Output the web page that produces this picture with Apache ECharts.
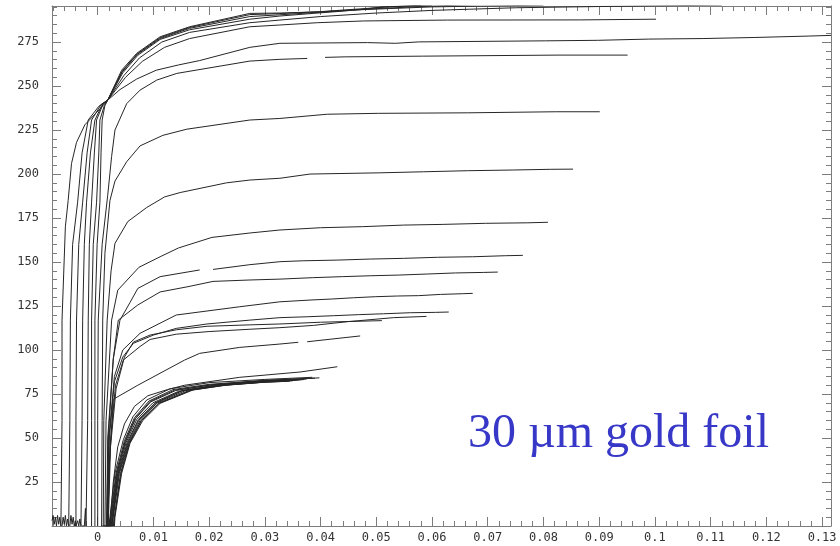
<!DOCTYPE html>
<html>
<head>
<meta charset="utf-8">
<script src="https://cdn.jsdelivr.net/npm/echarts@6/dist/echarts.min.js"></script>
<style>
html,body{margin:0;padding:0;background:#fff;}
#chart{width:840px;height:546px;}
</style>
</head>
<body>
<div id="chart"></div>
<script>
// ---- tick values / labels ----
const xTickValues = [0, 0.01, 0.02, 0.03, 0.04, 0.05, 0.06, 0.07, 0.08, 0.09, 0.1, 0.11, 0.12, 0.13];
const xTickLabels = ['0', '0.01', '0.02', '0.03', '0.04', '0.05', '0.06', '0.07', '0.08', '0.09', '0.1', '0.11', '0.12', '0.13'];
const yTickValues = [25, 50, 75, 100, 125, 150, 175, 200, 225, 250, 275];
const yTickLabels = ['25', '50', '75', '100', '125', '150', '175', '200', '225', '250', '275'];

// ---- curves (x, y) ----
const curveC = [[-0.0082,3],[-0.0080,6],[-0.0078,1],[-0.0076,5],[-0.0074,0],[-0.0072,6],[-0.0070,1],[-0.0068,5],[-0.0066,0],[-0.0064,0],
  [-0.0064,60],[-0.0064,117],[-0.0058,170],[-0.0053,185],[-0.0047,206],[-0.0038,218],[-0.0023,228],[0.0004,237],[0.0018,242],
  [0.004,248],[0.007,254],[0.0105,259],[0.0145,262],[0.0183,264.5],[0.0273,272],[0.0327,274.3],[0.0484,274.7],[0.0534,274.3],[0.0576,275.1],[0.0804,275.7],
  [0.0897,276],[0.0989,276.7],[0.1086,277],[0.1178,277.6],[0.1275,278.4],[0.1316,278.8]];
const curveB = [[-0.0064,0],[-0.0062,5],[-0.0060,1],[-0.0058,6],[-0.0056,0],[-0.0054,4],[-0.0052,0],[-0.0050,0],
  [-0.0050,60],[-0.0049,117],[-0.0045,160],[-0.0036,184],[-0.0028,212],[-0.0017,230.7],[0.0002,238.5],[0.0018,242],
  [0.005,255],[0.008,264],[0.012,272],[0.0165,277],[0.0273,283.7],[0.0327,284.7],[0.0394,286],[0.0477,287],[0.0628,287.5],[0.0867,287.6],[0.1002,288]];
const curveT3 = [[-0.0050,0],[-0.0048,6],[-0.0046,1],[-0.0044,5],[-0.0042,0],[-0.0040,3],[-0.0039,0],
  [-0.0039,60],[-0.0038,117],[-0.0034,160],[-0.0027,184],[-0.0019,212],[-0.0011,230.7],[0.0006,239.5],[0.0018,242],
  [0.0047,256],[0.0075,266],[0.0115,275],[0.0165,280.5],[0.0273,286],[0.0327,287.5],[0.04,289.5],[0.05,291.5],[0.06,293],[0.075,294.5],[0.09,295.2],[0.112,296]];
const curveT2 = [[-0.0039,0],[-0.0036,3],[-0.0034,0],[-0.0032,4],[-0.0030,0],[-0.0028,0],
  [-0.0028,60],[-0.0027,117],[-0.0024,160],[-0.002,184],[-0.0013,212],[-0.0005,230.7],[0.0009,240],[0.0018,242],
  [0.0045,257.5],[0.0072,267.5],[0.0112,276.5],[0.0165,282],[0.0273,288],[0.0327,289.8],[0.0387,291.3],[0.0448,292.8],[0.0457,293.2],[0.06,295],[0.08,296]];
const curveT1b = [[-0.0028,0],[-0.0024,0],[-0.0022,10],[-0.0021,0],[-0.0018,0],
  [-0.0018,60],[-0.0017,117],[-0.0015,160],[-0.0011,184],[-0.0006,212],[-0.0002,230.7],[0.001,240],[0.0018,242],
  [0.0044,258],[0.0071,268],[0.0112,277],[0.0165,282.8],[0.0273,289.5],[0.0327,290.5],[0.04,292],[0.05,294],[0.06,295.5],[0.07,296.5]];
const curveT1a = [[-0.0011,0],[-0.0011,60],[-0.0011,117],[-0.0008,160],[-0.0002,184],[0.0002,212],[0.0004,230.7],[0.0012,239],[0.0018,242],
  [0.0044,258.5],[0.0071,268.3],[0.0112,277.5],[0.0165,283.3],[0.0273,290.6],[0.0327,291.2],[0.04,292.3],[0.05,294.5],[0.058,296]];
const curveT0 = [[-0.0005,0],[-0.0005,60],[-0.0005,117],[-0.0001,160],[0.0004,184],[0.0006,212],[0.0008,230.7],[0.0013,239],[0.0018,242],
  [0.0043,259],[0.007,268.6],[0.0112,278],[0.0165,283.7],[0.0273,291.3],[0.0327,291.5],[0.04,292.2],[0.0477,293.6],[0.051,295],[0.06,296]];
const curveD = [[0,0],[0,60],[0.0001,117],[0.0008,160],[0.0018,188],[0.0025,210],[0.0031,225],[0.0052,240],[0.0076,247.7],[0.0106,253.4],
  [0.0142,257.2],[0.0273,264.2],[0.0327,265.2],[0.0376,265.7],[0.039,null],[0.0408,266.3],[0.0444,266.6],[0.0583,267],[0.0826,267.6],[0.0951,267.6]];
const curveE = [[0.0007,0],[0.0008,60],[0.0009,117],[0.0013,155],[0.0022,185],[0.0031,196],[0.0052,207],[0.0076,216],[0.0117,222],[0.016,225.5],
  [0.0273,230.7],[0.0327,231.6],[0.0412,234],[0.0504,234.5],[0.0664,234.8],[0.0822,235.4],[0.0901,235.4]];
const curveF = [[0.001,0],[0.0011,60],[0.0017,117],[0.0024,145],[0.0031,160.6],[0.0054,173],[0.0088,181],[0.012,187],[0.0148,189.5],[0.0231,195],
  [0.0273,196.6],[0.0327,197.6],[0.0381,200],[0.0507,200.7],[0.0585,201.3],[0.0664,201.9],[0.0746,202.3],[0.0813,202.7],[0.0853,202.8]];
const curveG = [[0.0013,0],[0.0015,60],[0.0025,117],[0.0036,134],[0.0074,147],[0.0112,153],[0.0145,158],[0.0205,164],[0.0273,166.5],[0.0327,168.2],
  [0.04,169.5],[0.0475,170.1],[0.0549,171],[0.062,171.4],[0.0696,172],[0.0772,172.3],[0.0808,172.6]];
const curveH = [[0.0016,0],[0.0018,50],[0.0028,95],[0.004,117],[0.0058,127],[0.0072,135],[0.0112,141.7],[0.0183,145.5],[0.0195,null],
  [0.0207,145.8],[0.0273,148.5],[0.0327,150.2],[0.0367,150.7],[0.043,151.1],[0.0489,151.7],[0.0549,152.1],[0.061,152.7],[0.0673,153],[0.0732,153.6],[0.0763,153.8]];
const curveI = [[0.0016,0],[0.0019,50],[0.0028,95],[0.0037,117],[0.0072,125.6],[0.0112,133],[0.0162,136],[0.0207,139],[0.0273,139.8],[0.0327,140.3],
  [0.0385,141.1],[0.0439,141.7],[0.0489,142.2],[0.054,142.6],[0.0592,143.2],[0.0642,143.8],[0.0692,144.1],[0.0718,144.3]];
const curveJ = [[0.0017,0],[0.002,50],[0.003,85],[0.0045,100],[0.0076,109.5],[0.0141,119.9],[0.0255,124.6],[0.0327,127.4],[0.0381,128.4],
  [0.0421,129],[0.0459,129.7],[0.0498,130.3],[0.0538,130.7],[0.0576,130.9],[0.0615,131.6],[0.0655,132],[0.0673,132.2]];
const curveK = [[0.0017,0],[0.0021,50],[0.003,82],[0.0045,96],[0.0064,103.8],[0.01,108.5],[0.0141,112.3],[0.0196,114.8],[0.0273,117],[0.0327,118.4],
  [0.0376,118.9],[0.0423,119.5],[0.0468,120.1],[0.0513,120.6],[0.0561,121.2],[0.0606,121.4],[0.063,121.6]];
const curveL = [[0.0018,0],[0.0022,45],[0.0032,80],[0.0046,94.3],[0.0076,102],[0.0094,106],[0.0141,109],[0.02,110.5],[0.0273,111.8],[0.0327,112.7],
  [0.0387,114],[0.0448,116.1],[0.0531,118.4],[0.059,119.1]];
const curveM = [[0.0019,0],[0.0023,45],[0.0033,78],[0.0048,96],[0.0064,104.5],[0.0094,108.5],[0.0141,111.5],[0.0196,113.5],[0.0273,114.3],[0.0327,114.8],
  [0.04,115.8],[0.051,116.7]];
const curveN = [[0.0018,0],[0.0021,35],[0.0028,72],[0.0072,80],[0.0156,94.3],[0.0183,98.1],[0.0255,101.5],[0.0327,103.4],[0.036,104.4],[0.0368,null],
  [0.0376,104.7],[0.0471,108]];
const curveO = [[0.0022,0],[0.0028,25],[0.0036,45],[0.0048,58],[0.0066,68],[0.009,74],[0.0125,77.5],[0.0156,80],[0.0255,84.5],[0.0363,87.5],[0.043,90.5]];
const bundle1 = [[0.0006,0],[0.0020,0],[0.0022,5],[0.0031,30],[0.0046,49],[0.0063,62],[0.0088,71.6],[0.013,78],[0.0201,81.5],[0.03,83.3],[0.0385,84.5]];
const bundle2 = [[0.0021,0],[0.0023,5],[0.0033,30],[0.0048,48.5],[0.0066,61.5],[0.0092,71],[0.0135,77.5],[0.02,80.5],[0.03,82.8],[0.039,84]];
const bundle3 = [[0.0010,0],[0.0022,0],[0.0024,5],[0.0034,30],[0.005,48],[0.0068,61],[0.0095,70.5],[0.014,77],[0.02,80],[0.03,82.5],[0.0375,83.5]];
const bundle4 = [[0.0024,0],[0.0026,5],[0.0036,30],[0.0051,47.5],[0.007,60.5],[0.0099,70],[0.0145,76.5],[0.021,80],[0.03,82.3],[0.037,83.2]];
const bundle5 = [[0.0014,0],[0.0025,0],[0.0027,5],[0.0037,30],[0.0053,47.5],[0.0073,60.5],[0.0103,70],[0.015,76.8],[0.021,79.8],[0.03,82],[0.036,83]];
const bundle6 = [[0.0027,0],[0.0028,5],[0.0039,30],[0.0055,47],[0.0076,60],[0.0106,69.8],[0.0158,77],[0.022,80],[0.03,82],[0.0355,82.8]];
const bundle7 = [[0.0028,0],[0.003,5],[0.0041,30],[0.0056,47],[0.0078,60],[0.0109,69.7],[0.0165,77.2],[0.0225,80],[0.03,81.8],[0.035,82.5]];
const bundle8 = [[0.0018,0],[0.003,0],[0.0031,5],[0.0043,30],[0.0058,47],[0.0081,60],[0.0112,69.7],[0.0171,77.3],[0.023,80],[0.03,81.7],[0.0345,82.3]];
const bundle9 = [[0.0023,0],[0.0025,5],[0.0035,30],[0.0049,48],[0.0067,61],[0.0094,70.8],[0.0138,77.2],[0.0205,80.3],[0.03,82.6],[0.0398,84.2]];
const bundle10 = [[0.0026,0],[0.0027,5],[0.0038,30],[0.0054,47.3],[0.0074,60.2],[0.0104,69.9],[0.0152,76.9],[0.0215,79.9],[0.03,82.1],[0.0365,83.1]];
const bundle11 = [[0.0029,0],[0.003,5],[0.0042,30],[0.0057,47],[0.0079,60],[0.011,69.7],[0.0168,77.2],[0.0228,80],[0.03,81.8],[0.034,82.2]];

const curves = [curveC, curveB, curveT3, curveT2, curveT1b, curveT1a, curveT0, curveD, curveE, curveF, curveG, curveH, curveI,
  curveJ, curveK, curveL, curveM, curveN, curveO, bundle1, bundle2, bundle3, bundle4, bundle5, bundle6, bundle7, bundle8,
  bundle9, bundle10, bundle11];

// ---- layout / style ----
const X_MIN = -0.0082, X_MAX = 0.1316, Y_MIN = 0, Y_MAX = 295.5;
const AXIS_COLOR = '#7c7c7c';
const LABEL_FONT = { fontFamily: 'DejaVu Sans Mono', fontSize: 12, color: '#333' };

const xMinor = [];
for (let i = -4; i <= 65; i++) xMinor.push(Math.round(i * 2) / 1000);
const yMinor = [];
for (let i = 1; i <= 59; i++) yMinor.push(i * 5);

function xAx(pos, values, len, showLine, showLabel) {
  return {
    type: 'value', position: pos, min: X_MIN, max: X_MAX,
    axisLine: { show: showLine, onZero: false, lineStyle: { color: AXIS_COLOR, width: 1 } },
    axisTick: { show: true, inside: true, length: len, customValues: values, lineStyle: { color: AXIS_COLOR, width: 1 } },
    axisLabel: showLabel ? Object.assign({ show: true, margin: 6, customValues: xTickValues,
      formatter: v => xTickLabels[xTickValues.indexOf(v)] }, LABEL_FONT) : { show: false },
    splitLine: { show: false }, minorTick: { show: false }
  };
}
function yAx(pos, values, len, showLine, showLabel) {
  return {
    type: 'value', position: pos, min: Y_MIN, max: Y_MAX,
    axisLine: { show: showLine, onZero: false, lineStyle: { color: AXIS_COLOR, width: 1 } },
    axisTick: { show: true, inside: true, length: len, customValues: values, lineStyle: { color: AXIS_COLOR, width: 1 } },
    axisLabel: showLabel ? Object.assign({ show: true, margin: 13, customValues: yTickValues,
      formatter: v => yTickLabels[yTickValues.indexOf(v)] }, LABEL_FONT) : { show: false },
    splitLine: { show: false }, minorTick: { show: false }
  };
}

const chart = echarts.init(document.getElementById('chart'), null, { renderer: 'canvas' });
chart.setOption({
  animation: false,
  backgroundColor: '#ffffff',
  grid: { left: 52, right: 9, top: 6, bottom: 20, containLabel: false },
  xAxis: [
    xAx('bottom', xTickValues, 9, true, true),
    xAx('bottom', xMinor, 5, false, false),
    xAx('top', xTickValues, 9, true, false),
    xAx('top', xMinor, 5, false, false)
  ],
  yAxis: [
    yAx('left', yTickValues, 9, true, true),
    yAx('left', yMinor, 5, false, false),
    yAx('right', yTickValues, 9, true, false),
    yAx('right', yMinor, 5, false, false)
  ],
  series: curves.map(c => ({
    type: 'line', data: c, xAxisIndex: 0, yAxisIndex: 0,
    showSymbol: false, symbol: 'none', connectNulls: false, clip: true,
    lineStyle: { color: '#262626', width: 1 }, emphasis: { disabled: true }, silent: true
  })),
  graphic: [{
    type: 'text', left: 468, top: 410,
    style: { text: '30 µm gold foil', fontFamily: 'Liberation Serif', fontSize: 48, fill: '#3838c8' }
  }]
});
</script>
</body>
</html>
